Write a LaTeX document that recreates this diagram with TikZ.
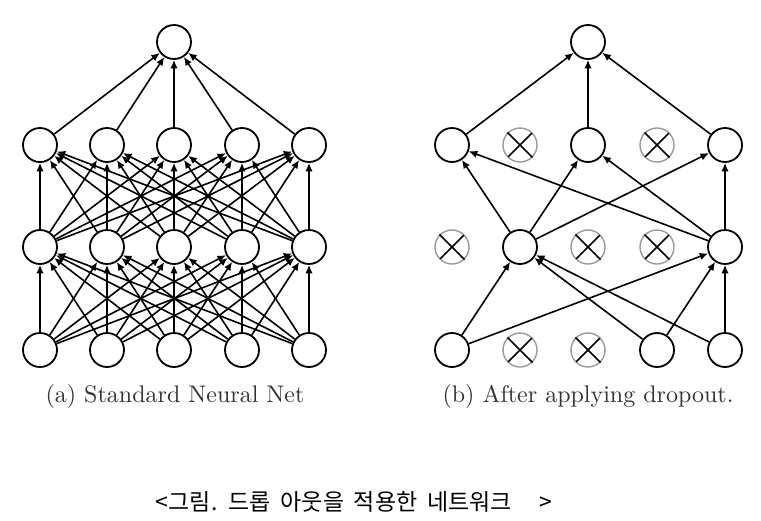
\documentclass[tikz,border=0pt]{standalone}
\usepackage{fontspec}
\newfontfamily\hangul{Noto Sans CJK KR}
\usetikzlibrary{arrows.meta}

\begin{document}
\begin{tikzpicture}[x=1pt,y=-1pt,
    neuron/.style={circle,draw,line width=1.8pt,minimum size=34pt,inner sep=0pt},
    dropped/.style={circle,draw=black!40,line width=1.4pt,minimum size=34pt,inner sep=0pt},
    conn/.style={line width=1.6pt,-{Latex[length=8.5pt,width=7.5pt]}},
    caption/.style={font=\fontsize{10}{12}\selectfont,text=black!80,scale=2.4}]
    \useasboundingbox (0,0) rectangle (761,520);
    % (a) standard neural net
    \foreach \i/\x in {1/40,2/107,3/174,4/242,5/309}{
        \node[neuron] (a0-\i) at (\x,350) {};
        \node[neuron] (a1-\i) at (\x,247) {};
        \node[neuron] (a2-\i) at (\x,145) {};
    }
    \node[neuron] (a3) at (174,42) {};
    \foreach \i in {1,...,5}{
        \foreach \j in {1,...,5}{
            \draw[conn] (a0-\i) -- (a1-\j);
            \draw[conn] (a1-\i) -- (a2-\j);
        }
        \draw[conn] (a2-\i) -- (a3);
    }
    % (b) after dropout
    \foreach \i/\x/\s in {1/452/neuron,2/520/dropped,3/588/dropped,4/657/neuron,5/725/neuron}
        \node[\s] (b0-\i) at (\x,350) {};
    \foreach \i/\x/\s in {1/452/dropped,2/520/neuron,3/588/dropped,4/657/dropped,5/725/neuron}
        \node[\s] (b1-\i) at (\x,247) {};
    \foreach \i/\x/\s in {1/452/neuron,2/520/dropped,3/588/neuron,4/657/dropped,5/725/neuron}
        \node[\s] (b2-\i) at (\x,145) {};
    \node[neuron] (b3) at (588,42) {};
    \foreach \n in {b0-2,b0-3,b1-1,b1-3,b1-4,b2-2,b2-4}
        \draw[line width=1.6pt,shorten <=1pt,shorten >=1pt] (\n.north west) -- (\n.south east)
            (\n.north east) -- (\n.south west);
    \foreach \u/\v in {b0-1/b1-2,b0-4/b1-2,b0-5/b1-2,b0-1/b1-5,b0-4/b1-5,b0-5/b1-5,
        b1-2/b2-1,b1-5/b2-1,b1-2/b2-3,b1-5/b2-3,b1-2/b2-5,b1-5/b2-5,
        b2-1/b3,b2-3/b3,b2-5/b3}
        \draw[conn] (\u) -- (\v);
    % captions
    \node[caption] (capa) at (175,396) {(a) Standard Neural Net};
    \node[caption] (capb) at (588,396) {(b) After applying dropout.};
    \node[font=\hangul\fontsize{23}{27}\selectfont] (title) at (354,502)
        {\spaceskip=0.42em <그림. 드롭 아웃을 적용한 네트워크\hspace{1.2em}>};
\end{tikzpicture}
\end{document}
